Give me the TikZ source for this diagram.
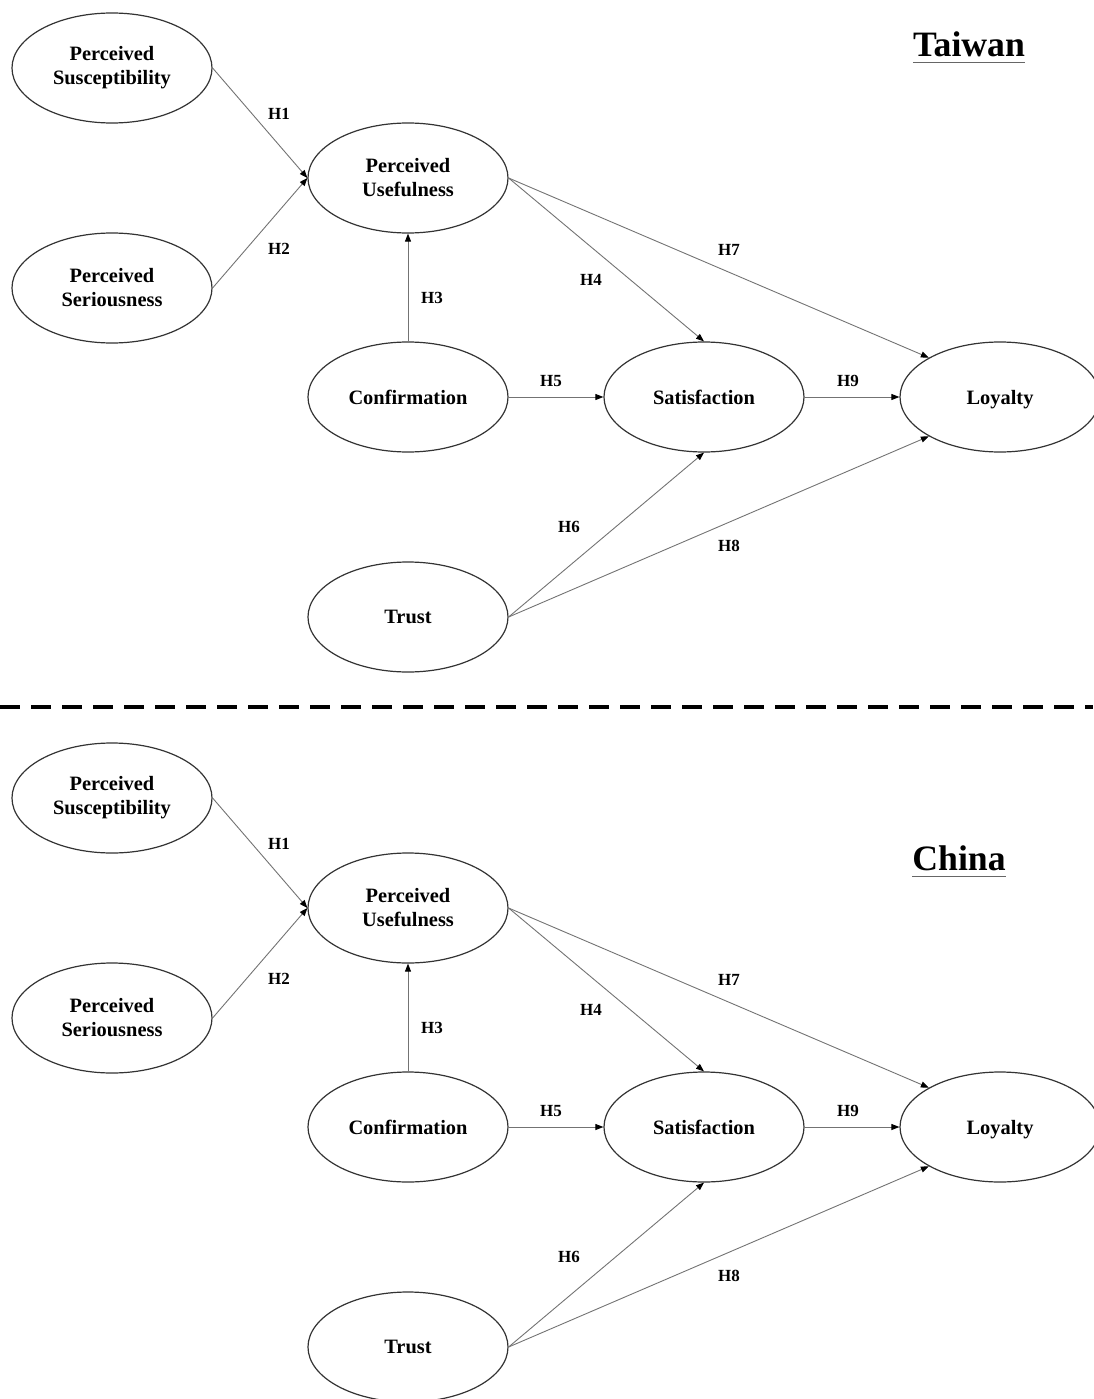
\documentclass[tikz,border=0pt]{standalone}
\usepackage{fontspec}
\setmainfont{Liberation Serif}
\usetikzlibrary{arrows.meta,shapes.geometric}

\begin{document}
\begin{tikzpicture}[x=1pt,y=-1pt,
    construct/.style={ellipse,draw=black!80,line width=1.2pt,
      minimum width=200pt,minimum height=110pt,inner sep=0pt,align=center,
      font=\fontsize{20.4}{24}\selectfont\bfseries},
    hyp/.style={inner sep=0pt,font=\fontsize{17}{20}\selectfont\bfseries},
    country/.style={inner xsep=0pt,inner ysep=6pt,font=\fontsize{35.7}{40}\selectfont\bfseries},
    link/.style={draw=black!55,line width=0.9pt,-{Triangle[length=8pt,width=6pt,color=black]}}]
 \useasboundingbox (0,0) rectangle (1093,1399);
 % one panel per country, the lower one shifted down
 \foreach \P/\Off/\Country/\CX/\CY in {t/0/Taiwan/969/44, c/730/China/959/858}
 {
 \begin{scope}[shift={(0,\Off)}]
  \node[construct] (\P-sus) at (112,68)  {Perceived\\Susceptibility};
  \node[construct] (\P-ser) at (112,288) {Perceived\\Seriousness};
  \node[construct] (\P-use) at (408,178) {Perceived\\Usefulness};
  \node[construct] (\P-con) at (408,397) {Confirmation};
  \node[construct] (\P-sat) at (704,397) {Satisfaction};
  \node[construct,text depth=0pt] (\P-loy) at (1000,397) {Loyalty};
  \node[construct] (\P-tru) at (408,617) {Trust};

  \draw[link] (\P-sus.east) -- (\P-use.west);
  \draw[link] (\P-ser.east) -- (\P-use.west);
  \draw[link] (\P-con.north) -- (\P-use.south);
  \draw[link] (\P-use.east) -- (\P-sat.north);
  \draw[link] (\P-use.east) -- (\P-loy.north west);
  \draw[link] (\P-con.east) -- (\P-sat.west);
  \draw[link] (\P-sat.east) -- (\P-loy.west);
  \draw[link] (\P-tru.east) -- (\P-sat.south);
  \draw[link] (\P-tru.east) -- (\P-loy.south west);

  \foreach \H/\HX/\HY in {1/279/114, 2/279/249, 3/432/298, 4/591/280, 5/551/381,
                          6/569/527, 7/729/250, 8/729/546, 9/848/381}
   \node[hyp] (\P-h\H) at (\HX,\HY) {H\H};
 \end{scope}
 \node[country] (\P-name) at (\CX,\CY) {\Country};
 \draw[black!60,line width=1.4pt] (\P-name.south west) -- (\P-name.south east);
 }
 % separator between the two panels
 \draw[line width=4pt,dash pattern=on 20pt off 11pt] (0,707) -- (1093,707);
\end{tikzpicture}
\end{document}
